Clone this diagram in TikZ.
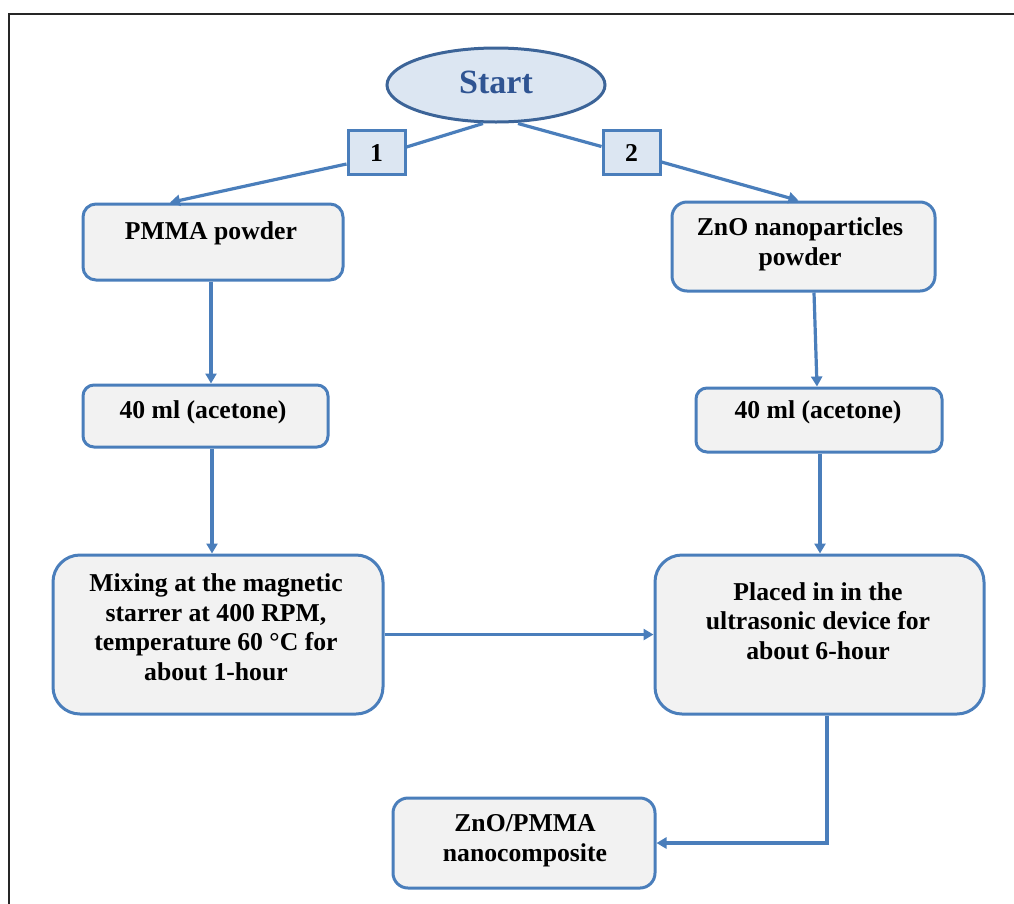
\documentclass[tikz,border=0pt]{standalone}
\usepackage{fontspec}
\setmainfont{Liberation Serif}
\usetikzlibrary{shapes.geometric,arrows.meta}
\definecolor{lineblue}{RGB}{74,126,187}
\definecolor{boxfill}{RGB}{242,242,242}
\definecolor{lblfill}{RGB}{220,230,242}
\definecolor{ellline}{RGB}{60,100,152}
\definecolor{starttxt}{RGB}{47,84,146}
\tikzset{
  box/.style={draw=lineblue, fill=boxfill, line width=3pt, inner sep=0pt},
  lbl/.style={draw=lineblue, fill=lblfill, line width=3pt, inner sep=0pt,
    minimum width=57pt, minimum height=44pt},
  txt/.style={align=center, anchor=base, inner sep=0pt,
    font=\bfseries\fontsize{25.7}{29.5}\selectfont},
  conn/.style={draw=lineblue, line width=3.2pt},
  arr/.style={conn, -{Triangle[length=10pt,width=11pt]}},
}
\begin{document}
\begin{tikzpicture}[x=1pt,y=-1pt]
\useasboundingbox (0,0) rectangle (1014,903);
% frame
\draw[line width=2pt, black!85] (9,950) -- (9,14) -- (1030,14);
% start
\node[ellipse, draw=ellline, fill=lblfill, line width=3pt,
  minimum width=218pt, minimum height=74pt, inner sep=0pt] (start) at (496,85) {};
\node[txt, font=\bfseries\fontsize{34}{40}\selectfont, text=starttxt] (starttext) at (496,93) {Start};
% label boxes
\node[lbl] (b1) at (376.5,152.5) {};
\node[txt] (b1text) at (376.5,161) {1};
\node[lbl] (b2) at (631.5,152.5) {};
\node[txt] (b2text) at (631.5,161) {2};
% boxes
\node[box, rounded corners=13pt, minimum width=260pt, minimum height=76pt] (pmma) at (213,242) {};
\node[txt] (pmmatext) at (211,239) {PMMA powder};
\node[box, rounded corners=15pt, minimum width=263pt, minimum height=89pt] (zno) at (803.5,246.5) {};
\node[txt] (znotext) at (800,265) {ZnO nanoparticles\\powder};
\node[box, rounded corners=11pt, minimum width=245pt, minimum height=62pt] (ac1) at (205.5,416) {};
\node[txt] (ac1text) at (203,418) {40 ml (acetone)};
\node[box, rounded corners=11pt, minimum width=246pt, minimum height=64pt] (ac2) at (819,420) {};
\node[txt] (ac2text) at (818,418) {40 ml (acetone)};
\node[box, rounded corners=27pt, minimum width=330pt, minimum height=159pt] (mix) at (218,634.5) {};
\node[txt] (mixtext) at (216,680) {Mixing at the magnetic\\starrer at 400 RPM,\\temperature 60 °C for\\about 1-hour};
\node[box, rounded corners=27pt, minimum width=329pt, minimum height=159pt] (ult) at (819.5,634.5) {};
\node[txt] (ulttext) at (818,659) {Placed in in the\\ultrasonic device for\\about 6-hour};
\node[box, rounded corners=15pt, minimum width=262pt, minimum height=90pt] (comp) at (524,843) {};
\node[txt] (comptext) at (525,861) {ZnO/PMMA\\nanocomposite};
% connectors
\draw[conn] ([xshift=-13pt]start.south) -- ([yshift=5.5pt]b1.east);
\draw[arr] ([yshift=-11.5pt]b1.west) -- ([xshift=-43pt]pmma.north);
\draw[conn] ([xshift=22pt]start.south) -- ([yshift=6pt]b2.west);
\draw[arr] ([yshift=-9.5pt]b2.east) -- ([xshift=-5pt]zno.north);
\draw[arr] ([xshift=-2pt]pmma.south) -- ([xshift=5.5pt]ac1.north);
\draw[arr] ([xshift=6.5pt]ac1.south) -- ([xshift=-6pt]mix.north);
\draw[arr] ([xshift=10.5pt]zno.south) -- ([xshift=-2pt]ac2.north);
\draw[arr] ([xshift=1pt]ac2.south) -- ([xshift=0.5pt]ult.north);
\draw[arr] (mix.east) -- (ult.west);
\draw[arr] ([xshift=7.5pt]ult.south) |- (comp.east);
\end{tikzpicture}
\end{document}
